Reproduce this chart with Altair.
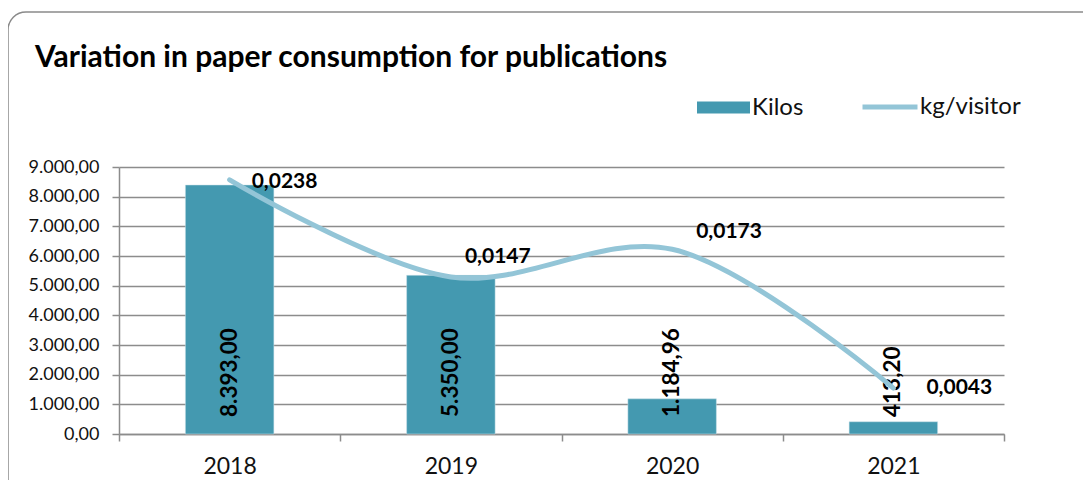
import altair as alt
import pandas as pd

years = ["2018", "2019", "2020", "2021"]
kilos = [8393.00, 5350.00, 1184.96, 413.20]
kg_per_visitor = [0.0238, 0.0147, 0.0173, 0.0043]
title_text = "Variation in paper consumption for publications"

def eu(v, d):
    s = f"{v:,.{d}f}"
    return s.replace(",", "#").replace(".", ",").replace("#", ".")

df = pd.DataFrame({
    "year": years,
    "kilos": kilos,
    "kgv": kg_per_visitor,
    "kilos_lbl": [eu(v, 2) for v in kilos],
    "kgv_lbl": [eu(v, 4) for v in kg_per_visitor],
    "s1": ["Kilos"] * 4,
    "s2": ["kg/visitor"] * 4,
})

FONT = "Lato"
TEAL = "#4499b0"
LIGHT = "#93c5d7"
GRID = "#8c8c8c"

W, H = 885, 267

xenc = alt.X("year:N", sort=years, title=None,
             scale=alt.Scale(paddingInner=0, paddingOuter=0),
             axis=alt.Axis(labelAngle=0, tickBand="extent", labelFontSize=23, labelPadding=14,
                           domainColor=GRID, tickColor=GRID, tickSize=7, domainWidth=1.5, tickWidth=1.5,
                           labelColor="#111", labelFont=FONT, grid=False))

left_fmt = "replace(replace(replace(format(datum.value, ',.2f'), ',', '#'), '.', ','), '#', '.')"
right_fmt = "replace(format(datum.value, '.4f'), '.', ',')"

base = alt.Chart(df)

bars = base.mark_bar(width=alt.RelativeBandSize(0.4), stroke="#cfe3ea", strokeWidth=0.5).encode(
    x=xenc,
    y=alt.Y("kilos:Q", title=None,
            scale=alt.Scale(domain=[0, 9000], nice=False),
            axis=alt.Axis(values=list(range(0, 9001, 1000)), labelExpr=left_fmt,
                          grid=True, gridColor=GRID, gridWidth=1.5,
                          domainColor=GRID, tickColor=GRID, tickSize=7, domainWidth=1.5, tickWidth=1.5,
                          labelFontSize=18, labelColor="#111", labelFont=FONT, labelPadding=13)),
    color=alt.Color("s1:N", scale=alt.Scale(domain=["Kilos"], range=[TEAL]),
                    legend=alt.Legend(title=None, orient="none", legendX=578, legendY=-86,
                                      symbolType="M-1,-0.226H1V0.226H-1Z", symbolSize=2809,
                                      symbolStrokeWidth=0, labelFontSize=24, labelFont=FONT,
                                      labelColor="#111", labelOffset=2, padding=0)),
)

bar_text = base.mark_text(angle=270, align="left", baseline="middle", fontSize=22.5,
                          fontWeight="bold", font=FONT, color="#000").encode(
    x=alt.X("year:N", sort=years),
    y=alt.value(250),
    text="kilos_lbl:N",
)

yr = alt.Y("kgv:Q", title=None,
           scale=alt.Scale(domain=[0, 0.025], nice=False),
           axis=alt.Axis(orient="right", values=[0, 0.005, 0.01, 0.015, 0.02, 0.025],
                         labelExpr=right_fmt, grid=False,
                         domainColor=GRID, tickColor=GRID, tickSize=7, domainWidth=1.5, tickWidth=1.5,
                         labelFontSize=18, labelColor="#111", labelFont=FONT, labelPadding=8))

line = base.mark_line(interpolate="catmull-rom", strokeWidth=5, strokeCap="round").encode(
    x=alt.X("year:N", sort=years),
    y=yr,
    stroke=alt.Stroke("s2:N", scale=alt.Scale(domain=["kg/visitor"], range=[LIGHT]),
                      legend=alt.Legend(title=None, orient="none", legendX=741, legendY=-90,
                                        symbolType="M-1,0H1", symbolSize=3025,
                                        symbolStrokeWidth=5, labelFontSize=24, labelFont=FONT,
                                        labelColor="#111", labelOffset=0, padding=0)),
)

offsets = {"2018": (22, 2), "2019": (14, -20), "2020": (24, -17), "2021": (33, 0)}
line_texts = []
for yv, (dx, dy) in offsets.items():
    line_texts.append(
        base.transform_filter(alt.datum.year == yv).mark_text(
            align="left", baseline="middle", dx=dx, dy=dy, fontSize=21,
            fontWeight="bold", font=FONT, color="#000").encode(
            x=alt.X("year:N", sort=years),
            y=alt.Y("kgv:Q", scale=alt.Scale(domain=[0, 0.025], nice=False), axis=None),
            text="kgv_lbl:N",
        )
    )

deco = alt.Chart(pd.DataFrame({"a": [0]}))
border = deco.mark_rect(
    fill=None, stroke="#8a8a8a", strokeWidth=1.5, cornerRadius=18).encode(
    x=alt.value(-111), x2=alt.value(1100), y=alt.value(-155), y2=alt.value(600))
title = deco.mark_text(align="left", baseline="alphabetic", fontSize=30, fontWeight="bold",
                       font=FONT, color="#000").encode(
    x=alt.value(-84), y=alt.value(-100), text=alt.value(title_text))

left_layer = alt.layer(bars, bar_text)
right_layer = alt.layer(line, *line_texts)

chart = alt.layer(border, title, left_layer, right_layer).resolve_scale(y="independent").properties(
    width=W, height=H,
    autosize=alt.AutoSizeParams(type="none"),
    padding={"left": 111, "top": 159, "right": 79, "bottom": 46},
).configure_view(stroke=None)

chart.save("out.html", embed_options={"renderer": "svg", "actions": False})
